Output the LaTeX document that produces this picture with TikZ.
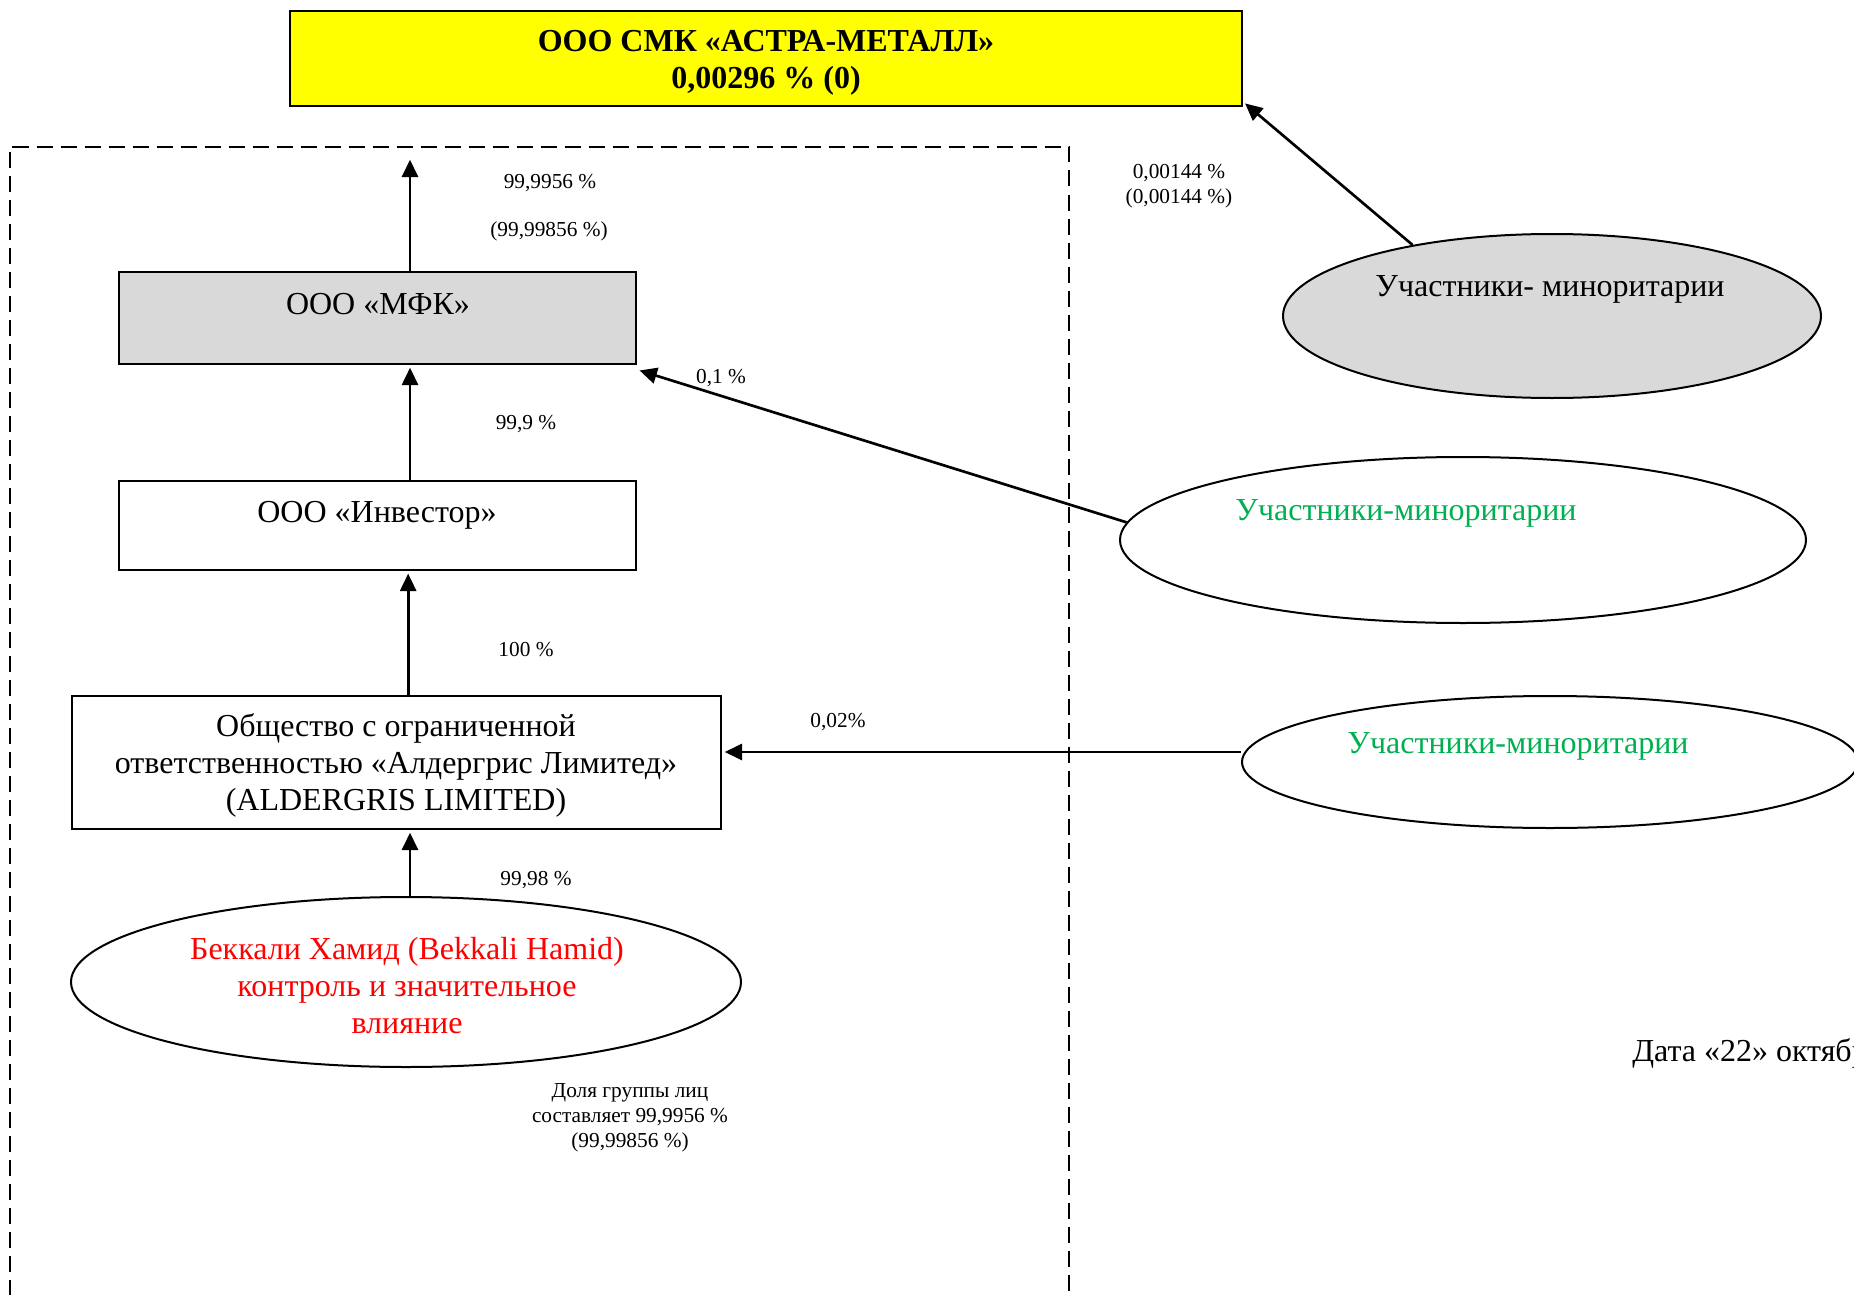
\documentclass[tikz,border=0pt]{standalone}
\usepackage{fontspec}
\setmainfont{Liberation Serif}
\usetikzlibrary{arrows.meta,shapes.geometric}
\definecolor{gfill}{HTML}{D9D9D9}
\definecolor{mgreen}{HTML}{00B050}
\definecolor{myellow}{HTML}{FFFF00}
\definecolor{mred}{HTML}{FF0000}
\begin{document}
\begin{tikzpicture}[x=0.75pt,y=-0.75pt,
 box/.style={draw, line width=1.5pt, rectangle, inner sep=0pt},
 oval/.style={draw, line width=1.5pt, ellipse, inner sep=0pt},
 big/.style={font=\fontsize{24}{27.75}\selectfont, align=center, inner sep=0pt},
 bigbold/.style={font=\fontsize{24}{27.75}\selectfont\bfseries, align=center, inner sep=0pt},
 small/.style={font=\fontsize{16}{18.75}\selectfont, align=center, inner sep=0pt},
 arr/.style={line width=2pt, shorten >=2pt, -{Triangle[length=13pt,width=12pt]}},
 frame/.style={line width=1.5pt, dash pattern=on 12pt off 6pt},
]
\useasboundingbox (0,0) rectangle (1854,1295);
\clip (0,0) rectangle (1854,1295);

% dashed group frame
\draw[frame] (9.5,1320) -- (9.5,147) -- (1069,147) -- (1069,1320);

% shapes
\node[box, fill=myellow, minimum width=714pt, minimum height=71.25pt] (top) at (766,58.5) {};
\node[box, fill=gfill, minimum width=387.75pt, minimum height=69pt] (mfk) at (377.5,318) {};
\node[box, minimum width=387.75pt, minimum height=66.75pt] (inv) at (377.5,525.5) {};
\node[box, minimum width=486.75pt, minimum height=99.75pt] (ald) at (396.5,762.5) {};
\node[oval, minimum width=502.5pt, minimum height=127.5pt] (red) at (406,982) {};
\node[oval, fill=gfill, minimum width=403.5pt, minimum height=123pt] (gray) at (1552,316) {};
\node[oval, minimum width=514.5pt, minimum height=124.5pt] (mid) at (1463,540) {};
\node[oval, minimum width=462pt, minimum height=99pt] (bot) at (1550,762) {};

% texts in shapes
\node[bigbold] (toptxt) at (766,63) {ООО СМК «АСТРА-МЕТАЛЛ»\\0,00296 \% (0)};
\node[big] (mfktxt) at (378,304) {ООО «МФК»};
\node[big] (invtxt) at (377,515.5) {ООО «Инвестор»};
\node[big] (aldtxt) at (396,765.5) {Общество с ограниченной\\ответственностью «Алдергрис Лимитед»\\(ALDERGRIS LIMITED)};
\node[big, text=mred] (redtxt) at (407,986) {Беккали Хамид (Bekkali Hamid)\\контроль и значительное\\влияние};
\node[big] (graytxt) at (1550,289.5) {Участники- миноритарии};
\node[big, text=mgreen] (midtxt) at (1406,513.5) {Участники-миноритарии};
\node[big, text=mgreen] (bottxt) at (1518,746.5) {Участники-миноритарии};
\node[big, anchor=west] (date) at (1632,1053) {Дата «22» октября};

% connectors
\coordinate (topend) at (410,157);
\draw[arr] (mfk.north -| topend) -- (topend);
\draw[arr] ([xshift=24.4pt]inv.north) -- ([xshift=24.4pt]mfk.south);
\draw[arr] ([xshift=23pt]inv.south |- ald.north) -- ([xshift=23pt]inv.south);
\draw[arr] ([xshift=3pt]red.north) -- ([xshift=3pt]red.north |- ald.south);
\draw[arr] (gray.153) -- ([yshift=4pt]top.south east);
\draw[arr] (mid.177) -- ([yshift=-3.5pt]mfk.south east);
\draw[arr] ([yshift=7.5pt]bot.west) -- ([yshift=7.5pt]bot.west -| ald.east);

% percentage labels
\node[small] (l1) at (550,183.5) {99,9956 \%};
\node[small] (l2) at (549,231.5) {(99,99856 \%)};
\node[small] (l3) at (1179,186) {0,00144 \%\\(0,00144 \%)};
\node[small] (l4) at (721,378.5) {0,1 \%};
\node[small] (l5) at (526,424.5) {99,9 \%};
\node[small] (l6) at (526,649.5) {100 \%};
\node[small] (l7) at (838,722.5) {0,02\%};
\node[small] (l8) at (536,880.5) {99,98 \%};
\node[small] (l9) at (630,1117.5) {Доля группы лиц\\составляет 99,9956 \%\\(99,99856 \%)};
\end{tikzpicture}
\end{document}
